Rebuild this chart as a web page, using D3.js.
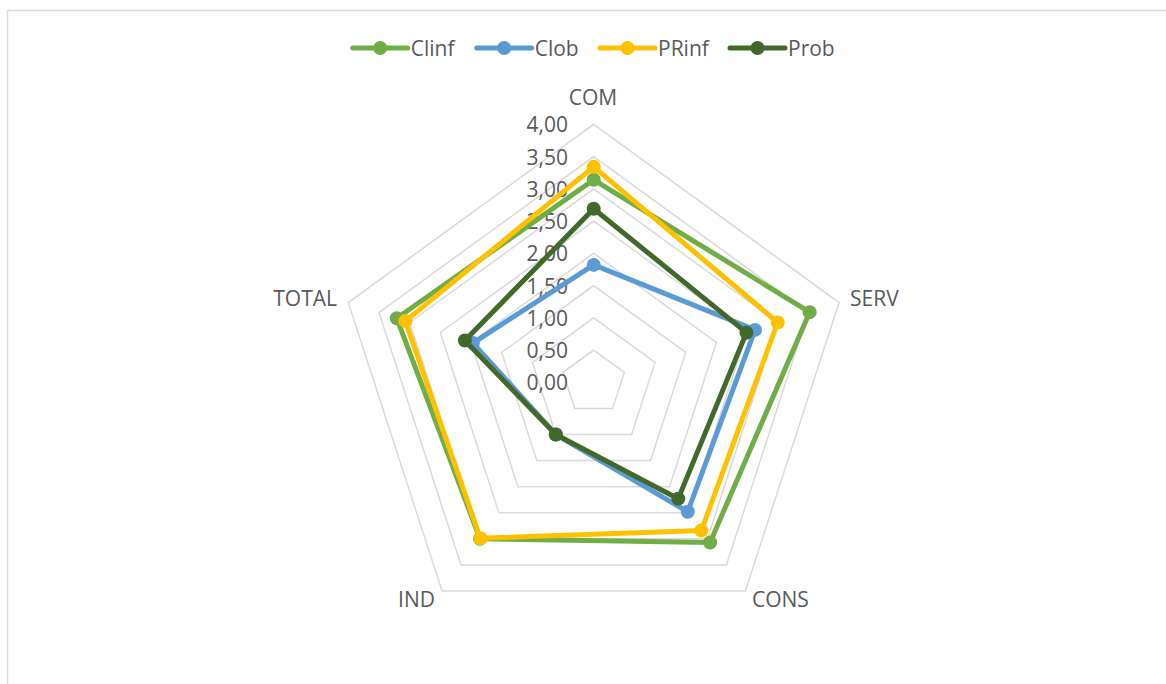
<!DOCTYPE html>
<html>
<head>
<meta charset="utf-8">
<script src="https://cdn.jsdelivr.net/npm/d3@7"></script>
<style>
  html, body { margin: 0; padding: 0; background: #fff; }
  svg { display: block; }
  text { font-family: "Open Sans", sans-serif; fill: #595959; }
</style>
</head>
<body>
<svg id="chart" width="1166" height="684"></svg>
<script>
// Axes of the radar, clockwise from the top
const categories = ["COM", "SERV", "CONS", "IND", "TOTAL"];

// Series values per axis
const clinf = [3.14, 3.52, 3.07, 3.00, 3.21];
const clob  = [1.82, 2.63, 2.48, 1.00, 1.97];
const prinf = [3.34, 3.00, 2.84, 2.99, 3.07];
const prob  = [2.69, 2.49, 2.23, 1.00, 2.10];

const seriesNames = ["Clinf", "Clob", "PRinf", "Prob"];
const seriesValues = [clinf, clob, prinf, prob];
const seriesColors = ["#70AD47", "#5B9BD5", "#FFC000", "#43682B"];

// Radial scale ticks
const tickValues = [0, 0.5, 1, 1.5, 2, 2.5, 3, 3.5, 4];
const tickLabels = ["0,00", "0,50", "1,00", "1,50", "2,00", "2,50", "3,00", "3,50", "4,00"];

const svg = d3.select("#chart");
const cx = 593.7, cy = 382.3, R = 258;

// Outer frame (left and top edges)
svg.append("path")
  .attr("d", "M7.5,684 L7.5,10.5 L1166,10.5")
  .attr("fill", "none").attr("stroke", "#d9d9d9").attr("stroke-width", 1.5);

const r = d3.scaleLinear().domain([0, 4]).range([0, R]);
const angle = d3.scalePoint().domain(categories).range([0, 2 * Math.PI * 4 / 5]);

function pt(cat, v) {
  const a = angle(cat);
  return [cx + r(v) * Math.sin(a), cy - r(v) * Math.cos(a)];
}

// Grid pentagons
const g = svg.append("g");
tickValues.filter(t => t > 0).forEach(t => {
  g.append("path")
    .attr("d", d3.line()(categories.map(c => pt(c, t))) + "Z")
    .attr("fill", "none").attr("stroke", "#d9d9d9").attr("stroke-width", 1.5);
});

// Tick labels along the first axis
tickValues.forEach((t, i) => {
  svg.append("text")
    .attr("x", 568).attr("y", cy - r(t))
    .attr("text-anchor", "end").attr("dominant-baseline", "central")
    .attr("font-size", 21)
    .text(tickLabels[i]);
});

// Category labels
const catLabelPos = {
  COM:   { x: 593, y: 97, anchor: "middle" },
  SERV:  { x: 850, y: 298, anchor: "start" },
  CONS:  { x: 752, y: 599, anchor: "start" },
  IND:   { x: 435, y: 599, anchor: "end" },
  TOTAL: { x: 337, y: 298, anchor: "end" }
};
categories.forEach(c => {
  const p = catLabelPos[c];
  svg.append("text")
    .attr("x", p.x).attr("y", p.y)
    .attr("text-anchor", p.anchor).attr("dominant-baseline", "central")
    .attr("font-size", 21)
    .text(c);
});

// Series lines and markers
seriesValues.forEach((vals, si) => {
  const pts = categories.map((c, i) => pt(c, vals[i]));
  const sg = svg.append("g");
  sg.append("path")
    .attr("d", d3.line()(pts) + "Z")
    .attr("fill", "none").attr("stroke", seriesColors[si])
    .attr("stroke-width", 5).attr("stroke-linejoin", "round");
  sg.selectAll("circle").data(pts).join("circle")
    .attr("cx", d => d[0]).attr("cy", d => d[1]).attr("r", 7)
    .attr("fill", seriesColors[si]);
});

// Legend
const legendX = [352.7, 476.7, 600, 730];
const ly = 48;
seriesNames.forEach((n, i) => {
  const x0 = legendX[i];
  svg.append("line")
    .attr("x1", x0).attr("x2", x0 + 55).attr("y1", ly).attr("y2", ly)
    .attr("stroke", seriesColors[i]).attr("stroke-width", 5).attr("stroke-linecap", "round");
  svg.append("circle")
    .attr("cx", x0 + 27.5).attr("cy", ly).attr("r", 7).attr("fill", seriesColors[i]);
  svg.append("text")
    .attr("x", x0 + 58).attr("y", ly).attr("dominant-baseline", "central")
    .attr("font-size", 21)
    .text(n);
});
</script>
</body>
</html>
